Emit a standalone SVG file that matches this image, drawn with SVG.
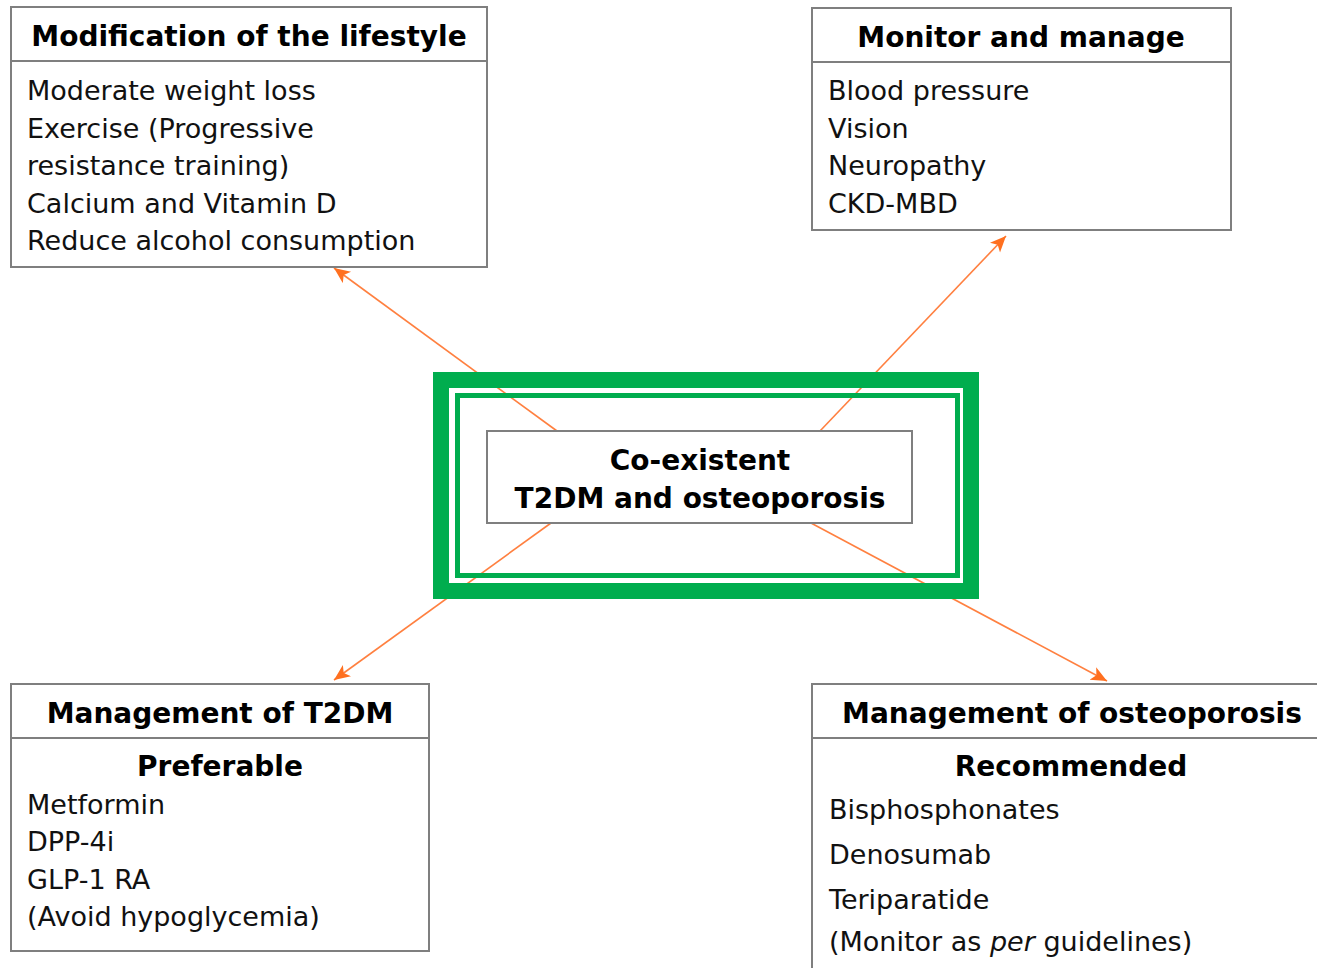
<svg xmlns="http://www.w3.org/2000/svg" width="1317" height="968" viewBox="0 0 1317 968">
<style>
.box{fill:#fff;stroke:#7f7f7f;stroke-width:2}
.sep{stroke:#7f7f7f;stroke-width:2}
.h{font-family:"DejaVu Sans","Verdana",sans-serif;font-weight:bold;font-size:28px;fill:#000;text-anchor:middle}
.t{font-family:"DejaVu Sans","Verdana",sans-serif;font-size:27px;fill:#111}
.conn{stroke:#FF8040;stroke-width:1.6;fill:none;marker-end:url(#ah)}
.g{fill:none;stroke:#00AD4E}
</style>
<defs>
<marker id="ah" markerUnits="userSpaceOnUse" markerWidth="18" markerHeight="16" refX="16" refY="7" orient="auto">
<path d="M0,0 L16,7 L0,14 L4,7 z" fill="#FF7020"/>
</marker>
</defs>
<rect width="1317" height="968" fill="#fff"/>
<g id="connectors">
<line class="conn" x1="557" y1="431" x2="334" y2="268"/>
<line class="conn" x1="820" y1="431" x2="1006" y2="236"/>
<line class="conn" x1="551" y1="523" x2="334" y2="680"/>
<line class="conn" x1="811" y1="523" x2="1107" y2="681"/>
</g>
<g id="center">
<rect class="g" x="441" y="380" width="530" height="211" stroke-width="16"/>
<rect class="g" x="457.5" y="395.5" width="500" height="180" stroke-width="5"/>
<rect class="box" x="487" y="431" width="425" height="92"/>
<text class="h" x="700" y="470">Co-existent</text>
<text class="h" x="700" y="508">T2DM and osteoporosis</text>
</g>
<g id="lifestyle">
<rect class="box" x="11" y="7" width="476" height="260"/>
<line class="sep" x1="11" y1="61" x2="487" y2="61"/>
<text class="h" x="249" y="46">Modification of the lifestyle</text>
<text class="t" x="27" y="100">Moderate weight loss</text>
<text class="t" x="27" y="138">Exercise (Progressive</text>
<text class="t" x="27" y="175">resistance training)</text>
<text class="t" x="27" y="213">Calcium and Vitamin D</text>
<text class="t" x="27" y="250">Reduce alcohol consumption</text>
</g>
<g id="monitor">
<rect class="box" x="812" y="8" width="419" height="222"/>
<line class="sep" x1="812" y1="62" x2="1231" y2="62"/>
<text class="h" x="1021" y="47">Monitor and manage</text>
<text class="t" x="828" y="100">Blood pressure</text>
<text class="t" x="828" y="138">Vision</text>
<text class="t" x="828" y="175">Neuropathy</text>
<text class="t" x="828" y="213">CKD-MBD</text>
</g>
<g id="t2dm">
<rect class="box" x="11" y="684" width="418" height="267"/>
<line class="sep" x1="11" y1="738" x2="429" y2="738"/>
<text class="h" x="220" y="723">Management of T2DM</text>
<text class="h" x="220" y="776">Preferable</text>
<text class="t" x="27" y="814">Metformin</text>
<text class="t" x="27" y="851">DPP-4i</text>
<text class="t" x="27" y="889">GLP-1 RA</text>
<text class="t" x="27" y="926">(Avoid hypoglycemia)</text>
</g>
<g id="osteoporosis">
<rect class="box" x="812" y="684" width="520" height="300"/>
<line class="sep" x1="812" y1="738" x2="1332" y2="738"/>
<text class="h" x="1072" y="723">Management of osteoporosis</text>
<text class="h" x="1071" y="776">Recommended</text>
<text class="t" x="829" y="819">Bisphosphonates</text>
<text class="t" x="829" y="864">Denosumab</text>
<text class="t" x="829" y="909">Teriparatide</text>
<text class="t" x="829" y="951">(Monitor as <tspan font-style="italic">per</tspan> guidelines)</text>
</g>
</svg>
